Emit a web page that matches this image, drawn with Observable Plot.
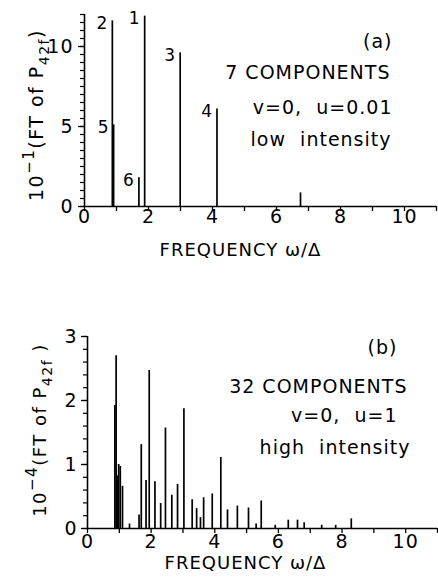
<!DOCTYPE html>
<html><head><meta charset="utf-8">
<script src="https://cdn.jsdelivr.net/npm/d3@7"></script>
<script src="https://cdn.jsdelivr.net/npm/@observablehq/plot@0.6"></script>
<style>
html,body{margin:0;padding:0;background:#fff;overflow:hidden;}
#chart svg{display:block;}
</style></head><body><div id="chart"></div>
<script>
// ---- Panel (a): 7 components, low intensity ----
const freqA  = [1.88, 0.87, 2.99, 4.14, 0.91, 1.70, 6.75];
const ampA   = [11.9, 11.6, 9.6, 6.1, 5.1, 1.8, 0.85];
const labelA = ["1", "2", "3", "4", "5", "6", ""];
const textA  = ["(a)", "7 COMPONENTS", "v=0,  u=0.01", "low  intensity"];

// ---- Panel (b): 32 components, high intensity ----
const freqB = [0.86, 0.90, 0.95, 0.98, 1.03, 1.10, 1.32, 1.62, 1.69, 1.84, 1.94, 2.12, 2.30, 2.45, 2.65, 2.83,
               3.03, 3.29, 3.43, 3.55, 3.65, 3.92, 4.19, 4.40, 4.71, 5.06, 5.30, 5.46, 5.90, 6.31, 6.60, 6.81,
               7.36, 7.80, 8.29];
const ampB  = [1.92, 2.70, 0.82, 1.00, 0.97, 0.66, 0.07, 0.21, 1.31, 0.75, 2.47, 0.73, 0.39, 1.57, 0.52, 0.69,
               1.87, 0.45, 0.31, 0.17, 0.48, 0.54, 1.11, 0.29, 0.35, 0.32, 0.07, 0.43, 0.05, 0.13, 0.13, 0.09,
               0.05, 0.05, 0.15];
const textB = ["(b)", "32 COMPONENTS", "v=0,  u=1", "high  intensity"];

// ---- axes ----
const xTickLabels = [0, 2, 4, 6, 8, 10];
const xMinorTicks = [0, 1, 2, 3, 4, 5, 6, 7, 8, 9, 10, 11];
const yTicksA = [0, 5, 10];
const yTicksB = [0, 1, 2, 3];
const xLabel = "FREQUENCY ω/Δ";

function panel(o) {
  const data = o.freq.map((f, i) => ({f, a: o.amp[i], l: o.labels ? o.labels[i] : ""}));
  const marks = [
    Plot.axisX({ticks: xMinorTicks, tickSize: 5, tickFormat: () => "", label: null, strokeWidth: 1.3}),
    Plot.axisX({ticks: xTickLabels, tickSize: 0, tickPadding: o.xPad, tickFormat: d => String(d), fontSize: 19, label: null}),
    Plot.axisY({ticks: o.yMinor, tickSize: 4, tickFormat: () => "", label: null, strokeWidth: 1.2}),
    Plot.axisY({ticks: o.yMajor, tickSize: 6, tickPadding: o.yPad, tickFormat: d => String(d), fontSize: 19, label: null, strokeWidth: 1.3}),
    Plot.ruleY([0], {stroke: "black", strokeWidth: 1.6}),
    Plot.ruleX([0], {y1: 0, y2: o.yMax, stroke: "black", strokeWidth: 1.6}),
    Plot.ruleX(data, {x: "f", y1: 0, y2: "a", stroke: "black", strokeWidth: 1.7}),
    Plot.text([xLabel], {frameAnchor: "bottom", dx: o.xlabDx, dy: o.xlabDy, fontSize: 18, lineAnchor: "middle", style: "letter-spacing:2.5px"}),
    ...o.texts.map((t, i) => Plot.text([t], {frameAnchor: "top-right", dx: o.tdx[i], dy: o.tdy[i],
        textAnchor: "end", lineAnchor: "bottom", fontSize: 19}))
  ];
  if (o.labels) {
    marks.push(Plot.text(data.filter(d => d.l), {x: "f", y: "a", text: "l", textAnchor: "end",
      lineAnchor: "top", dx: -4, dy: -4, fontSize: 17}));
  }
  const svg = Plot.plot({
    width: 438, height: o.height,
    marginLeft: o.ml, marginRight: o.mr, marginTop: o.mt, marginBottom: o.mb,
    x: {domain: [0, 11]},
    y: {domain: [0, o.yMax]},
    style: {fontFamily: "DejaVu Sans", fontSize: "19px", color: "black", background: "white", letterSpacing: "1px", overflow: "visible"},
    marks
  });
  // y label with super/subscripts
  const t = d3.select(svg).append("text")
    .attr("transform", `translate(${o.ylx},${o.yly}) rotate(-90)`)
    .attr("text-anchor", "middle").attr("font-size", o.ylFont).attr("fill", "black")
    .style("letter-spacing", "1.5px");
  t.append("tspan").text("10");
  t.append("tspan").attr("dy", -9).attr("font-size", 15).text("−" + o.exp);
  t.append("tspan").attr("dy", 9).text("(FT of P");
  t.append("tspan").attr("dy", 6).attr("font-size", 14).text("42f");
  t.append("tspan").attr("dy", -6).text(o.exp === "4" ? " )" : ")");
  return svg;
}

const chart = document.getElementById("chart");
chart.append(panel({
  freq: freqA, amp: ampA, labels: labelA, texts: textA,
  height: 270, ml: 84, mr: 2, mt: 14, mb: 64,
  yMax: 12, yMajor: yTicksA, yMinor: d3.range(0, 12.01, 0.5),
  xPad: 3, yPad: 5, xlabDx: -20, xlabDy: 44,
  tdx: [-44, -46, -44, -45], tdy: [33, 64, 99, 131],
  ylx: 43, yly: 115, ylFont: 19, exp: "1"
}));
chart.append(panel({
  freq: freqB, amp: ampB, labels: null, texts: textB,
  height: 310, ml: 87, mr: 1, mt: 66, mb: 52,
  yMax: 3, yMajor: yTicksB, yMinor: d3.range(0, 3.01, 0.2),
  xPad: 6, yPad: 4, xlabDx: -17, xlabDy: 35,
  tdx: [-40, -30, -40, -27], tdy: [17, 56, 85, 117],
  ylx: 46, yly: 160, ylFont: 18, exp: "4"
}));
</script></body></html>
